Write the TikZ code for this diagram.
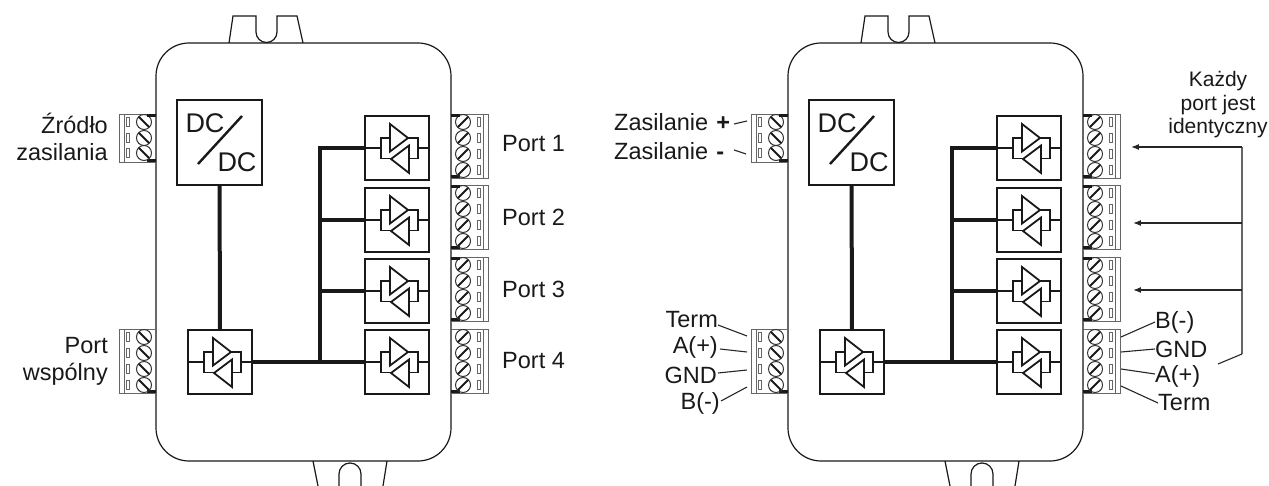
\documentclass[tikz,border=0pt]{standalone}
\usepackage{fontspec}
\setmainfont{Liberation Sans}
\usetikzlibrary{arrows.meta}

\newcommand{\termbody}[2]{
  \draw[termline] (0,0) rectangle (37,#1);
  \draw[termline] (32,0) -- (32,#1);
  \draw[bar] (0,#1-1.5) -- (9,#1-1.5);
  \foreach \s in {#2} {
    \draw[screw] (12,\s) circle (7.5);
    \draw[slot] (7,\s+5) -- (17,\s-5);
    \draw[termline] (26.5,\s-4.5) rectangle (29.5,\s+4.5);
  }
}

\tikzset{
  lead/.style={line width=1.1pt, black!85},
  outline/.style={line width=1.2pt, black!90},
  symb/.style={line width=1.8pt, black!90},
  termline/.style={line width=0.9pt, black!60},
  screw/.style={line width=1pt, black!80},
  slot/.style={line width=2pt, black!90},
  bar/.style={line width=2.2pt, black!90},
  bus/.style={line width=4pt, black!90},
  xbox/.style={draw, line width=1.9pt, black!90, minimum size=64pt, inner sep=0pt},
  dcbox/.style={draw, line width=2.4pt, black!90, minimum size=85pt, inner sep=0pt},
  txt/.style={font=\fontsize{23.5}{27}\selectfont, inner sep=0pt, black!90},
  xcvr/.pic={
    \draw[symb] (-7,-24) -- (11,-10) -- (-7,3.5) -- cycle;
    \draw[symb] (12,-2.5) -- (-6,11) -- (12,25) -- cycle;
    \draw[symb] (-7,-10) -- (-16,-10) -- (-16,10.5) -- (-6,10.5);
    \draw[symb] (11,-10) -- (21,-10) -- (21,10.5) -- (12,10.5);
    \draw[symb] (-32,0) -- (-16,0);
    \draw[symb] (21,0) -- (32,0);
  },
  termfour/.pic={\termbody{64}{8,24,40,56}},
  termthree/.pic={\termbody{48}{8,24,39}}
}

\begin{document}
\begin{tikzpicture}[x=1pt, y=-1pt, >=Latex, line cap=butt]
  \useasboundingbox (0,0) rectangle (1269,486);

  \foreach \dev/\dx in {a/0,b/632} {
    \begin{scope}[shift={(\dx,0)}, name prefix=\dev-]
      \draw[outline, rounded corners=33] (156,43) rectangle (451,461);
      \draw[outline] (229,43) -- (233,16) -- (256,16) -- (256,32)
        arc[start angle=180, end angle=0, radius=10.5] -- (277,16) -- (297,16) -- (303,43);
      \draw[outline] (313,461) -- (318,486);
      \draw[outline] (387,461) -- (383,486);
      \draw[outline] (339,486) -- (339,474)
        arc[start angle=180, end angle=360, radius=11] -- (361,486);

      \node[dcbox] (dc) at (219.5,142.5) {};
      \node[font=\fontsize{27}{30}\selectfont, inner sep=0pt, black!90] (dcgora) at (205,123) {DC};
      \node[font=\fontsize{27}{30}\selectfont, inner sep=0pt, black!90] (dcdol) at (237,162) {DC};
      \draw[line width=2.4pt, black!90] (198,164) -- (242,116);

      \node[xbox] (wspolny) at (220,362) {};
      \node[xbox] (port1) at (397,148) {};
      \node[xbox] (port2) at (397,220) {};
      \node[xbox] (port3) at (397,291) {};
      \node[xbox] (port4) at (397,362) {};
      \foreach \n in {wspolny,port1,port2,port3,port4}
        \pic at (\dev-\n) {xcvr};

      \coordinate (szyna) at (320,148);
      \draw[bus] (dc) -- (wspolny);
      \draw[bus] (wspolny) -- (port4);
      \draw[bus] (port1.west) -- (szyna) -- (szyna |- port4.west);
      \draw[bus] (port2.west) -- (szyna |- port2.west);
      \draw[bus] (port3.west) -- (szyna |- port3.west);

      \pic[xscale=-1] at (156,114) {termthree};
      \draw[bar] (156,115.5) -- (147,115.5);
      \pic[xscale=-1] at (156,329) {termfour};
      \foreach \y in {114,185,257,329}
        \pic at (451,\y) {termfour};
      \foreach \y in {115.5,186.5,258.5}
        \draw[bar] (451,\y) -- (460,\y);
    \end{scope}
  }

  \node[txt, anchor=east, align=right] (zrodlo) at (108,137) {Źródło\\zasilania};
  \node[txt, anchor=east, align=right] (wspolnylab) at (108,361) {Port\\wspólny};
  \node[txt, anchor=west] (p1lab) at (502,144) {Port 1};
  \node[txt, anchor=west] (p2lab) at (502,217) {Port 2};
  \node[txt, anchor=west] (p3lab) at (502,289) {Port 3};
  \node[txt, anchor=west] (p4lab) at (502,361) {Port 4};

  \node[txt, anchor=west] (zasplus) at (614,122) {Zasilanie\hspace{8pt}\textbf{+}};
  \node[txt, anchor=west] (zasminus) at (614,151) {Zasilanie\hspace{8pt}\textbf{-}};
  \coordinate (zp) at (747,121);
  \coordinate (zm) at (746,154);
  \draw[lead] (734,124) -- (zp);
  \draw[lead] (734,150) -- (zm);

  \node[txt, anchor=east] (lterm) at (718,320) {Term};
  \node[txt, anchor=east] (lap) at (718,347) {A(+)};
  \node[txt, anchor=east] (lgnd) at (717,375) {GND};
  \node[txt, anchor=east] (lbm) at (720,403) {B(-)};
  \coordinate (lt1) at (747,336);
  \coordinate (lt2) at (747,352);
  \coordinate (lt3) at (747,370);
  \coordinate (lt4) at (747,387);
  \draw[lead] (lterm.east) ++(0,5) -- (lt1);
  \draw[lead] (lap.east) ++(2,2) -- (lt2);
  \draw[lead] (lgnd.east) ++(1,-2) -- (lt3);
  \draw[lead] (lbm.east) ++(1,-2) -- (lt4);

  \node[txt, anchor=west] (rbm) at (1155,322) {B(-)};
  \node[txt, anchor=west] (rgnd) at (1155,349) {GND};
  \node[txt, anchor=west] (rap) at (1155,376) {A(+)};
  \node[txt, anchor=west] (rterm) at (1158,403) {Term};
  \coordinate (rt1) at (1121,337);
  \coordinate (rt2) at (1121,352);
  \coordinate (rt3) at (1121,369);
  \coordinate (rt4) at (1121,386);
  \draw[lead] (rbm.west) -- (rt1);
  \draw[lead] (rgnd.west) -- (rt2);
  \draw[lead] (rap.west) ++(0,-2) -- (rt3);
  \draw[lead] (rterm.west) -- (rt4);

  \node[font=\fontsize{21}{23.5}\selectfont, inner sep=0pt, black!90, align=center] (kazdy) at (1218,105) {Każdy\\port jest\\identyczny};

  \coordinate (pion) at (1242,147);
  \coordinate (pionkon) at (1242,354);
  \coordinate (ogon) at (1218,364);
  \coordinate (g1) at (1131,147);
  \coordinate (g2) at (1133,223);
  \coordinate (g3) at (1133,290);
  \draw[line width=1.1pt, black!60] (pion) -- (pionkon);
  \draw[lead] (pionkon) -- (ogon);
  \draw[->, lead] (pion) -- (g1);
  \draw[->, lead] (pion |- g2) -- (g2);
  \draw[->, lead] (pion |- g3) -- (g3);
\end{tikzpicture}
\end{document}
